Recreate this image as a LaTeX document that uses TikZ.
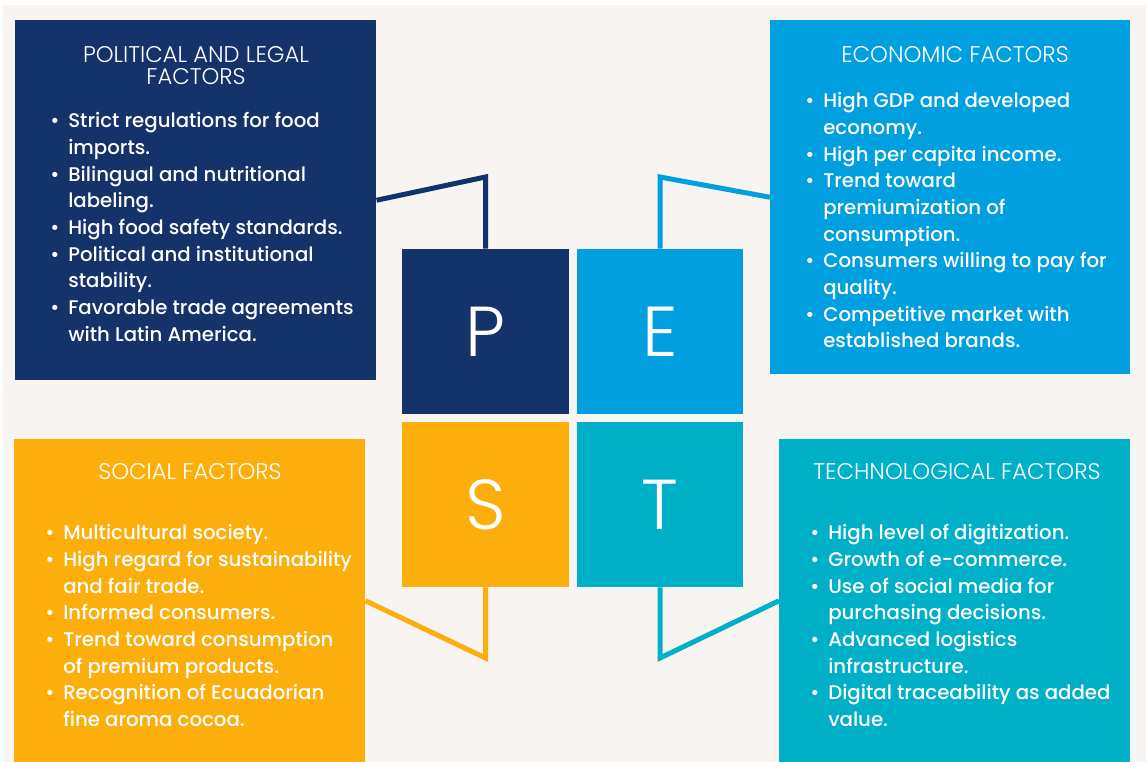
\documentclass[tikz,border=0pt]{standalone}
\usepackage{fontspec}
\setmainfont{Poppins Medium}
\newfontfamily\thinfont{Poppins Light}
\usetikzlibrary{positioning}

\definecolor{polblue}{HTML}{15336B}
\definecolor{ecoblue}{HTML}{009FE0}
\definecolor{socgold}{HTML}{FCAF0C}
\definecolor{techteal}{HTML}{00B0C8}
\definecolor{paper}{HTML}{F7F4F1}

% bullet and indent for the factor lists
\newcommand{\bul}{\makebox[13.5pt][l]{\textbullet}}
\newcommand{\cont}{\makebox[13.5pt]{}}

\tikzset{
  factorbox/.style={rectangle, inner sep=0pt, anchor=north west},
  letterbox/.style={rectangle, inner sep=0pt, minimum width=125pt, minimum height=124pt,
    text=white, font=\thinfont\fontsize{53}{53}\selectfont},
  boxtitle/.style={text=white, align=center, inner sep=0pt,
    font=\thinfont\fontsize{17}{16.5}\selectfont},
  listtext/.style={text=white, inner sep=0pt, anchor=base west,
    font=\fontsize{14.8}{20}\selectfont},
  link/.style={line width=3.75pt, line join=miter},
}

\begin{document}
\begin{tikzpicture}[x=0.75pt,y=-0.75pt]
\useasboundingbox (0,0) rectangle (1146,762);
\fill[white] (0,0) rectangle (1146,762);
\fill[paper] (3,5) rectangle (1146,762);

% outer boxes
\node[factorbox, fill=polblue, minimum width=270.75pt, minimum height=270pt] (pbox) at (15,20) {};
\node[factorbox, fill=ecoblue, minimum width=270pt, minimum height=265.5pt] (ebox) at (770,20) {};
\node[factorbox, fill=socgold, minimum width=263.25pt, minimum height=242.25pt] (sbox) at (14,439) {};
\node[factorbox, fill=techteal, minimum width=263.25pt, minimum height=242.25pt] (tbox) at (779,439) {};

% centre squares
\foreach \n/\c/\l/\x/\y in {p/polblue/P/485.5/331.5,e/ecoblue/E/660/331.5,
                            s/socgold/S/485.5/504.5,t/techteal/T/660/504.5} {
    \node[letterbox, fill=\c] (\n-sq) at (\x,\y) {\l};
}

% connectors
\coordinate (pbend) at (485.5,177);
\coordinate (ebend) at (660,177);
\coordinate (sbend) at (485.5,658);
\coordinate (tbend) at (660,658);
\draw[link, polblue] (pbox.east) -- (pbend) -- (p-sq.north);
\draw[link, ecoblue] (ebox.west) -- (ebend) -- (e-sq.north);
\draw[link, socgold] (sbox.east) -- (sbend) -- (s-sq.south);
\draw[link, techteal] (tbox.west) -- (tbend) -- (t-sq.south);

% titles
\node[boxtitle] (ptitle) at (196,66) {POLITICAL AND LEGAL\\FACTORS};
\node[boxtitle] (etitle) at (955,55) {ECONOMIC FACTORS};
\node[boxtitle] (stitle) at (190,472) {SOCIAL FACTORS};
\node[boxtitle] (ttitle) at (957,472) {TECHNOLOGICAL FACTORS};

% lists
\node[listtext] (plist) at (50,128) {\begin{tabular}[t]{@{}l@{}}
\bul Strict regulations for food\\
\cont imports.\\
\bul Bilingual and nutritional\\
\cont labeling.\\
\bul High food safety standards.\\
\bul Political and institutional\\
\cont stability.\\
\bul Favorable trade agreements\\
\cont with Latin America.
\end{tabular}};
\node[listtext] (elist) at (805,108) {\begin{tabular}[t]{@{}l@{}}
\bul High GDP and developed\\
\cont economy.\\
\bul High per capita income.\\
\bul Trend toward\\
\cont premiumization of\\
\cont consumption.\\
\bul Consumers willing to pay for\\
\cont quality.\\
\bul Competitive market with\\
\cont established brands.
\end{tabular}};
\node[listtext] (slist) at (45,540) {\begin{tabular}[t]{@{}l@{}}
\bul Multicultural society.\\
\bul High regard for sustainability\\
\cont and fair trade.\\
\bul Informed consumers.\\
\bul Trend toward consumption\\
\cont of premium products.\\
\bul Recognition of Ecuadorian\\
\cont fine aroma cocoa.
\end{tabular}};
\node[listtext] (tlist) at (810,540) {\begin{tabular}[t]{@{}l@{}}
\bul High level of digitization.\\
\bul Growth of e-commerce.\\
\bul Use of social media for\\
\cont purchasing decisions.\\
\bul Advanced logistics\\
\cont infrastructure.\\
\bul Digital traceability as added\\
\cont value.
\end{tabular}};
\end{tikzpicture}
\end{document}
